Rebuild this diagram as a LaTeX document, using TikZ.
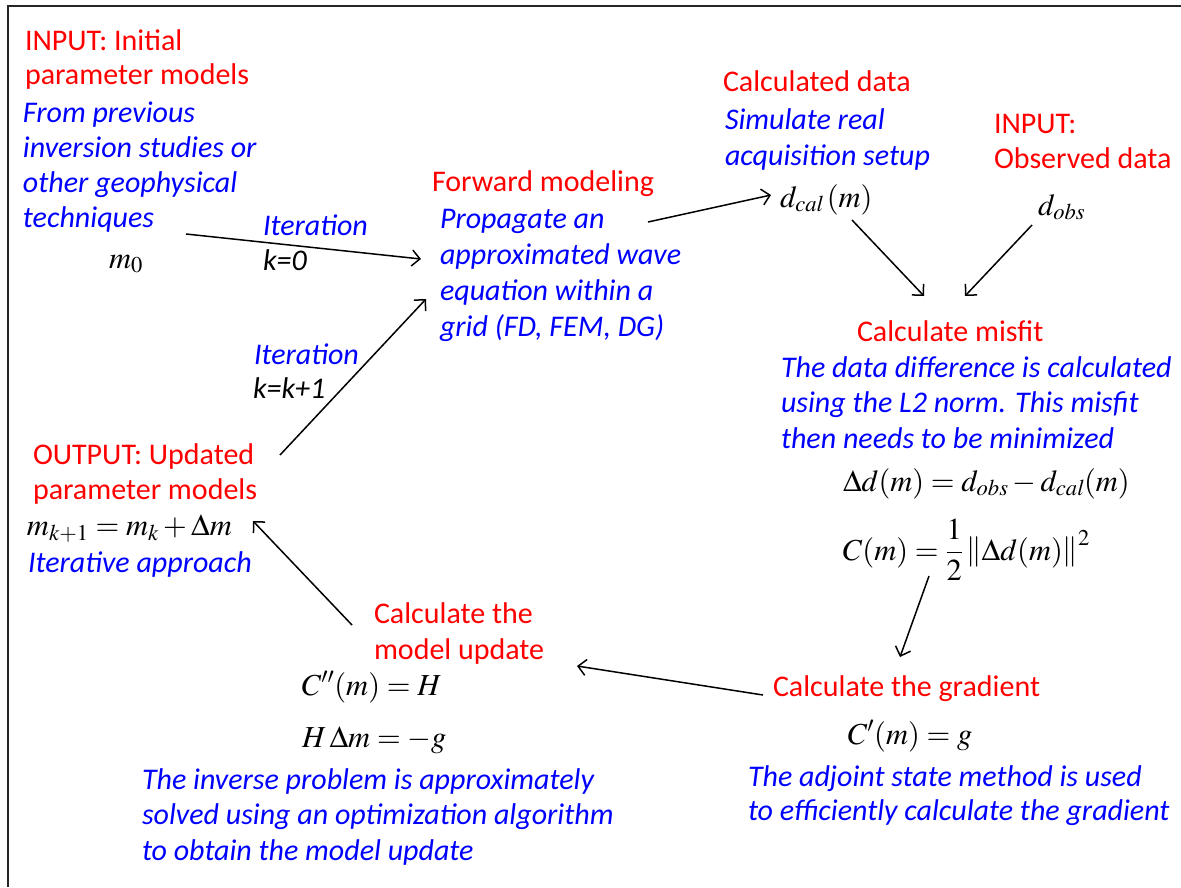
\documentclass[tikz,border=0pt]{standalone}
\usepackage{mathptmx}
\usepackage[no-math]{fontspec}
\setmainfont{Carlito}
\usetikzlibrary{arrows.meta}
\newcommand\lns[1]{\vtop{\halign{##\hfil\cr#1\crcr}}}
\tikzset{
  txt/.style={inner sep=0pt, outer sep=0pt, anchor=base west},
  redt/.style={txt, text=red, font=\fontsize{30}{#1}\selectfont},
  redt/.default=35,
  bluet/.style={txt, text=blue, font=\fontsize{30}{#1}\selectfont\itshape},
  bluet/.default=35.5,
  blackit/.style={txt, text=black, font=\fontsize{30}{35}\selectfont\itshape},
  eq/.style={txt, text=black, font=\fontsize{30.5}{36}\selectfont},
  conn/.style={draw=black, line width=1.5pt, -{Straight Barb[length=8pt,width=16pt,line width=1.5pt]}},
}
\begin{document}
\begin{tikzpicture}[x=1pt,y=-1pt]
\useasboundingbox (0,0) rectangle (1181,887);
\draw[line width=1.3pt, black!85] (8,887) -- (8,6) -- (1181,6);

% top-left input
\node[redt=34] (inA) at (25,50) {\lns{INPUT: Initial\cr parameter models}};
\node[bluet=35.3] (inAd) at (23,122) {\lns{From previous\cr inversion studies or\cr other geophysical\cr techniques}};
\node[eq] (m0) at (109,268) {$m_0$};

% iteration labels
\node[bluet] (it1) at (263,235) {Iteration};
\node[blackit] (k0) at (263,270) {k=0};
\node[bluet] (it2) at (254,364) {Iteration};
\node[blackit] (k1) at (253,398) {k=k+1};

% forward modeling
\node[redt] (fwd) at (432,191) {Forward modeling};
\node[bluet=36] (fwdd) at (440,228) {\lns{Propagate an\cr approximated wave\cr equation within a\cr grid (FD, FEM, DG)}};

% calculated data
\node[redt] (cal) at (723,91) {Calculated data};
\node[bluet=36] (cald) at (725,129) {\lns{Simulate real\cr acquisition setup}};
\node[eq] (dcal) at (780,207) {$d_{\mathit{cal}}\,(m)$};

% observed data
\node[redt] (obs) at (994,133) {\lns{INPUT:\cr Observed data}};
\node[eq] (dobs) at (1038,215) {$d_{\mathit{obs}}$};

% misfit
\node[redt] (mis) at (857,341) {Calculate misfit};
\node[bluet] (misd) at (781,377) {\lns{The data difference is calculated\cr using the L2 norm. This misfit\cr then needs to be minimized}};
\node[eq] (eqd) at (843,491) {$\Delta d(m) = d_{\mathit{obs}} - d_{\mathit{cal}}(m)$};
\node[eq] (eqc) at (843,560) {$C(m) = {\displaystyle\frac{1}{2}}\left\|\Delta d(m)\right\|^2$};

% gradient
\node[redt] (grad) at (773,696) {Calculate the gradient};
\node[eq] (eqg) at (848,744) {$C'(m) = g$};
\node[bluet=34] (gradd) at (748,786) {\lns{The adjoint state method is used\cr to efficiently calculate the gradient}};

% model update
\node[redt=36] (upd) at (374,623) {\lns{Calculate the\cr model update}};
\node[eq] (eqh) at (302,695) {$C''(m) = H$};
\node[eq] (eqhm) at (302,747) {$H\,\Delta m = -g$};
\node[bluet] (updd) at (142,789) {\lns{The inverse problem is approximately\cr solved using an optimization algorithm\cr to obtain the model update}};

% output
\node[redt] (out) at (33,464) {\lns{OUTPUT: Updated\cr parameter models}};
\node[eq] (eqm) at (27,535) {$m_{k+1} = m_k + \Delta m$};
\node[bluet] (outd) at (28,572) {Iterative approach};

% connector end points
\coordinate (c1s) at (186,234); \coordinate (c1e) at (421,259);
\coordinate (c2s) at (648,222); \coordinate (c2e) at (771,195);
\coordinate (c3s) at (852,220); \coordinate (c3e) at (924,296);
\coordinate (c4s) at (1032,225); \coordinate (c4e) at (965,296);
\coordinate (c5s) at (929,576); \coordinate (c5e) at (900,657);
\coordinate (c6s) at (763,695); \coordinate (c6e) at (577,666);
\coordinate (c7s) at (352,625); \coordinate (c7e) at (253,521);
\coordinate (c8s) at (280,455); \coordinate (c8e) at (426,299);

\draw[conn] (c1s) -- (c1e);
\draw[conn] (c2s) -- (c2e);
\draw[conn] (c3s) -- (c3e);
\draw[conn] (c4s) -- (c4e);
\draw[conn] (c5s) -- (c5e);
\draw[conn] (c6s) -- (c6e);
\draw[conn] (c7s) -- (c7e);
\draw[conn] (c8s) -- (c8e);
\end{tikzpicture}
\end{document}
